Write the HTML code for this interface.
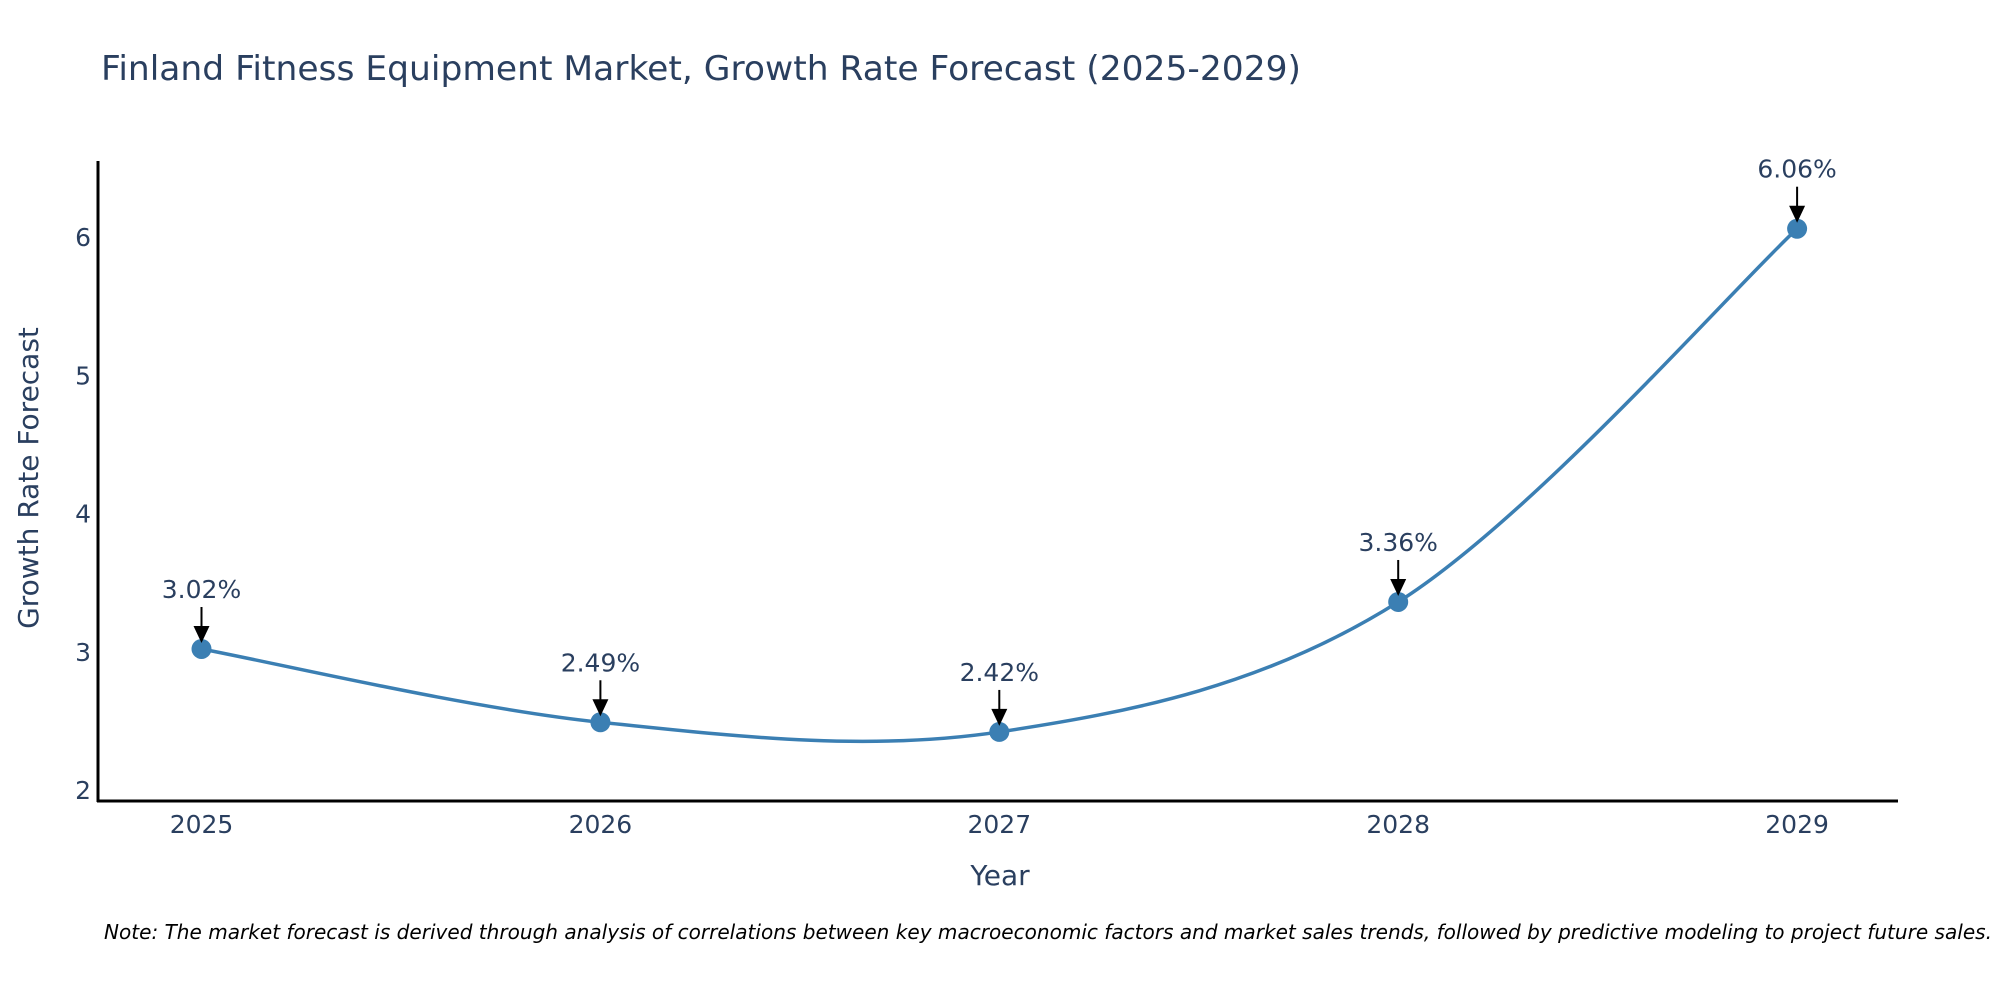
<!DOCTYPE html>
<html><head><meta charset="utf-8"><style>
body{margin:0;background:#fff;}
svg{display:block;font-family:"DejaVu Sans","Liberation Sans",sans-serif;}
</style></head><body>
<svg id="chart" width="2000" height="1000" viewBox="0 0 2000 1000">
<text x="101" y="80" font-size="34" fill="#2a3f5f" textLength="1200" lengthAdjust="spacingAndGlyphs">Finland Fitness Equipment Market, Growth Rate Forecast (2025-2029)</text>
<g id="plot"></g>
<line x1="98" y1="161" x2="98" y2="802" stroke="#000" stroke-width="3"/>
<line x1="97" y1="801" x2="1898" y2="801" stroke="#000" stroke-width="3"/>
<text x="1000" y="885" font-size="28" fill="#2a3f5f" text-anchor="middle">Year</text>
<text transform="translate(38,478) rotate(-90)" font-size="28" fill="#2a3f5f" text-anchor="middle">Growth Rate Forecast</text>
<text x="104" y="939" font-size="20" font-style="italic" fill="#000" textLength="1888" lengthAdjust="spacingAndGlyphs">Note: The market forecast is derived through analysis of correlations between key macroeconomic factors and market sales trends, followed by predictive modeling to project future sales.</text>
</svg>
<script>
const years = [2025, 2026, 2027, 2028, 2029];
const growth = [3.02, 2.49, 2.42, 3.36, 6.06];
const yTicks = [2, 3, 4, 5, 6];
const labels = ["3.02%", "2.49%", "2.42%", "3.36%", "6.06%"];

const NS = "http://www.w3.org/2000/svg";
const plot = document.getElementById("plot");
function xs(v){ return 201.5 + (v - 2025) * 398.9; }
function ys(v){ return 790 - (v - 2) * 138.25; }
function mk(tag, attrs){ const e=document.createElementNS(NS,tag); for(const k in attrs) e.setAttribute(k,attrs[k]); plot.appendChild(e); return e; }

yTicks.forEach(t=>{
  const e = mk("text",{x:91,y:ys(t)+9,"font-size":25,fill:"#2a3f5f","text-anchor":"end"});
  e.textContent = t;
  
  
});
years.forEach(y=>{
  const e = mk("text",{x:xs(y),y:833,"font-size":25,fill:"#2a3f5f","text-anchor":"middle"});
  e.textContent = y;
  
  
});

const P = years.map((y,i)=>[xs(y), ys(growth[i])]);
let d = "M"+P[0][0]+","+P[0][1];
const t = 1/6;
for(let i=0;i<P.length-1;i++){
  const p0=P[Math.max(i-1,0)], p1=P[i], p2=P[i+1], p3=P[Math.min(i+2,P.length-1)];
  const c1=[p1[0]+(p2[0]-p0[0])*t, p1[1]+(p2[1]-p0[1])*t];
  const c2=[p2[0]-(p3[0]-p1[0])*t, p2[1]-(p3[1]-p1[1])*t];
  d += " C"+c1[0]+","+c1[1]+" "+c2[0]+","+c2[1]+" "+p2[0]+","+p2[1];
}
const line = mk("path",{d:d,fill:"none",stroke:"#3b7fb3","stroke-width":3.5});



P.forEach((p,i)=>{
  const c = mk("circle",{cx:p[0],cy:p[1],r:10,fill:"#3b7fb3"});
  
  
  const a = mk("line",{x1:p[0],y1:p[1]-42,x2:p[0],y2:p[1]-18,stroke:"#000","stroke-width":2});
  
  
  const h = mk("polygon",{points:(p[0]-8)+","+(p[1]-23)+" "+(p[0]+8)+","+(p[1]-23)+" "+p[0]+","+(p[1]-6),fill:"#000"});
  
  
  const tx = mk("text",{x:p[0],y:p[1]-51,"font-size":25,fill:"#2a3f5f","text-anchor":"middle"});
  tx.textContent = labels[i];
  
  
});
</script>
</body></html>
